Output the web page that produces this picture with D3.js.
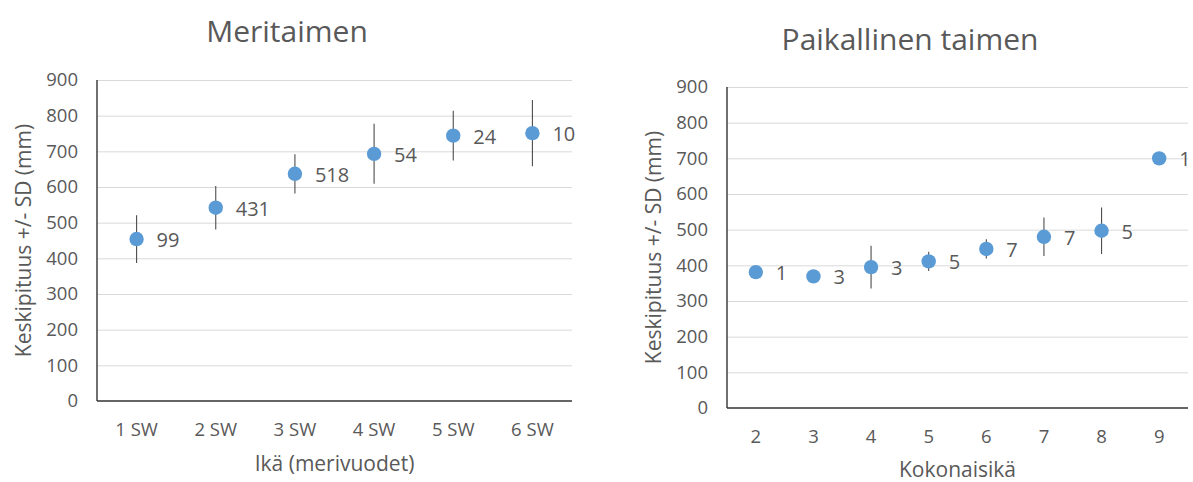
<!DOCTYPE html>
<html>
<head>
<meta charset="utf-8">
<script src="https://cdn.jsdelivr.net/npm/d3@7"></script>
<style>
  html, body { margin: 0; padding: 0; background: #ffffff; }
  svg { display: block; }
  text { font-family: "Open Sans", "DejaVu Sans", sans-serif; fill: #595959; }
</style>
</head>
<body>
<svg id="chart" width="1193" height="482"></svg>
<script>
// Sea trout: mean length by sea-years, SD and sample size
const seaAges  = ["1 SW", "2 SW", "3 SW", "4 SW", "5 SW", "6 SW"];
const seaMeans = [454, 542, 637, 693, 744, 751];
const seaSD    = [67, 61, 55, 84, 70, 93];
const seaN     = [99, 431, 518, 54, 24, 10];

// Resident trout: mean length by total age, SD and sample size
const localAges  = ["2", "3", "4", "5", "6", "7", "8", "9"];
const localMeans = [381, 369, 395, 411, 446, 480, 497, 700];
const localSD    = [0, 10, 60, 27, 27, 54, 65, 0];
const localN     = [1, 3, 3, 5, 7, 7, 5, 1];

const yTicks = [0, 100, 200, 300, 400, 500, 600, 700, 800, 900];

const svg = d3.select("#chart");

function drawPanel(p) {
  const g = svg.append("g");
  const x = d3.scaleBand().domain(p.cats).range([p.left, p.right]).padding(0);
  const y = d3.scaleLinear().domain([0, 900]).range([p.bottom, p.top]);

  // chart title
  g.append("text")
    .attr("x", p.titleX).attr("y", p.titleY)
    .attr("text-anchor", "middle")
    .style("font-size", "30px")
    .text(p.title);

  // horizontal gridlines
  g.append("g").selectAll("line").data(yTicks.filter(d => d > 0)).join("line")
    .attr("x1", p.left).attr("x2", p.right)
    .attr("y1", d => y(d) + 0.5).attr("y2", d => y(d) + 0.5)
    .attr("stroke", "#d9d9d9").attr("stroke-width", 1);

  // y axis labels
  const ya = g.append("g").attr("transform", `translate(${p.left},0)`)
    .call(d3.axisLeft(y).tickValues(yTicks).tickSize(0).tickPadding(19));
  ya.select(".domain").remove();
  ya.selectAll("text").style("font-size", "18.5px").attr("fill", "#595959");

  // x axis labels
  const xa = g.append("g").attr("transform", `translate(0,${p.bottom})`)
    .call(d3.axisBottom(x).tickSize(0).tickPadding(22));
  xa.select(".domain").remove();
  xa.selectAll("text").style("font-size", "18.5px").attr("fill", "#595959");

  // axis lines
  g.append("line")
    .attr("x1", p.left).attr("x2", p.left).attr("y1", p.top).attr("y2", p.bottom)
    .attr("stroke", "#333333").attr("stroke-width", 1.4);
  g.append("line")
    .attr("x1", p.left).attr("x2", p.right).attr("y1", p.bottom).attr("y2", p.bottom)
    .attr("stroke", "#333333").attr("stroke-width", 1.4);

  // axis titles
  g.append("text")
    .attr("x", (p.left + p.right) / 2).attr("y", p.xTitleY)
    .attr("text-anchor", "middle")
    .style("font-size", "21px")
    .text(p.xTitle);
  g.append("text")
    .attr("transform", `translate(${p.yTitleX},${(p.top + p.bottom) / 2}) rotate(-90)`)
    .attr("text-anchor", "middle")
    .style("font-size", "21px")
    .text("Keskipituus +/- SD (mm)");

  const rows = p.cats.map((c, i) => ({ c, m: p.means[i], sd: p.sd[i], n: p.n[i] }));
  const cx = d => x(d.c) + x.bandwidth() / 2;

  // error bars (mean ± SD)
  g.append("g").selectAll("line").data(rows).join("line")
    .attr("x1", cx).attr("x2", cx)
    .attr("y1", d => y(d.m + d.sd)).attr("y2", d => y(d.m - d.sd))
    .attr("stroke", "#4d4d4d").attr("stroke-width", 1.1);

  // mean markers
  g.append("g").selectAll("circle").data(rows).join("circle")
    .attr("cx", cx).attr("cy", d => y(d.m)).attr("r", 7.2)
    .attr("fill", "#5b9bd5");

  // sample size labels
  g.append("g").selectAll("text").data(rows).join("text")
    .attr("x", d => cx(d) + 20).attr("y", d => y(d.m) + 8)
    .style("font-size", "20px")
    .text(d => d.n);
}

drawPanel({
  cats: seaAges, means: seaMeans, sd: seaSD, n: seaN,
  title: "Meritaimen", xTitle: "Ikä (merivuodet)",
  left: 97, right: 572, top: 80, bottom: 401,
  titleX: 287, titleY: 42, xTitleY: 471, yTitleX: 31
});

drawPanel({
  cats: localAges, means: localMeans, sd: localSD, n: localN,
  title: "Paikallinen taimen", xTitle: "Kokonaisikä",
  left: 727, right: 1188, top: 87, bottom: 408,
  titleX: 910, titleY: 50, xTitleY: 477, yTitleX: 661
});
</script>
</body>
</html>
